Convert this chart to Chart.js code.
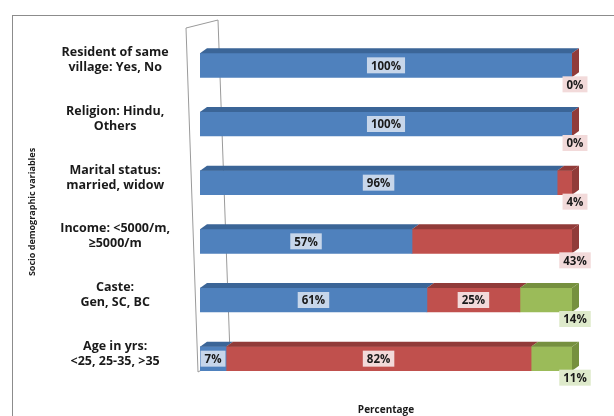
<!DOCTYPE html>
<html>
<head>
<meta charset="utf-8">
<script src="https://cdn.jsdelivr.net/npm/chart.js@4/dist/chart.umd.min.js"></script>
<style>
  html, body { margin: 0; padding: 0; background: #fff; }
  #wrap { width: 614px; height: 416px; }
</style>
</head>
<body>
<div id="wrap"><canvas id="chart" width="614" height="416"></canvas></div>
<script>
// categories, top to bottom
const categories = [
    ['Resident of same', 'village: Yes, No'],
    ['Religion: Hindu,', 'Others'],
    ['Marital status:', 'married, widow'],
    ['Income: <5000/m,', '\u22655000/m'],
    ['Caste:', 'Gen, SC, BC'],
    ['Age in yrs:', '<25, 25-35, >35']
];
const firstGroup = [100, 100, 96, 57, 61, 7];
const secondGroup = [0, 0, 4, 43, 25, 82];
const thirdGroup = [null, null, null, null, 14, 11];

const frontColors = ['#4F81BD', '#C0504D', '#9BBB59'];
const topColors = ['#3B6597', '#913B39', '#76903F'];
const labelBoxColors = ['#C7D6EA', '#F2DADA', '#DEEACB'];

const FONT = "'Open Sans', 'DejaVu Sans', sans-serif";

// draws the frame, the back wall, the 3D faces and the value boxes
const excelLook = {
    id: 'excelLook',
    beforeDraw(chart) {
        const ctx = chart.ctx;
        const area = chart.chartArea;
        const x0 = chart.scales.x.getPixelForValue(0);
        ctx.save();
        ctx.strokeStyle = '#8c8c8c';
        ctx.lineWidth = 1;
        ctx.strokeRect(12.5, 15.5, 700, 500);
        // back wall
        ctx.strokeStyle = '#9a9a9a';
        ctx.beginPath();
        ctx.moveTo(x0 - 14, area.top - 8);
        ctx.lineTo(x0 + 18, area.top - 16);
        ctx.lineTo(x0 + 30, area.bottom - 34);
        ctx.lineTo(x0 - 2, area.bottom - 16);
        ctx.closePath();
        ctx.stroke();
        ctx.restore();
    },
    afterDatasetsDraw(chart) {
        const ctx = chart.ctx;
        const dx = 7, dy = 5;
        ctx.save();
        categories.forEach((c, i) => {
            const last = thirdGroup[i] != null ? 2 : 1;
            for (let d = 0; d <= last; d++) {
                const bar = chart.getDatasetMeta(d).data[i];
                const top = bar.y - bar.height / 2;
                const bottom = bar.y + bar.height / 2;
                const left = Math.min(bar.x, bar.base);
                const right = Math.max(bar.x, bar.base);
                if (right - left > 0) {
                    ctx.fillStyle = topColors[d];
                    ctx.beginPath();
                    ctx.moveTo(left, top);
                    ctx.lineTo(left + dx, top - dy);
                    ctx.lineTo(right + dx, top - dy);
                    ctx.lineTo(right, top);
                    ctx.closePath();
                    ctx.fill();
                }
                if (d === last) {
                    ctx.fillStyle = topColors[d];
                    ctx.beginPath();
                    ctx.moveTo(right, top);
                    ctx.lineTo(right + dx, top - dy);
                    ctx.lineTo(right + dx, bottom - dy);
                    ctx.lineTo(right, bottom);
                    ctx.closePath();
                    ctx.fill();
                }
            }
            // value boxes
            ctx.font = 'bold 11.5px ' + FONT;
            ctx.textAlign = 'center';
            ctx.textBaseline = 'middle';
            for (let d = 0; d <= last; d++) {
                const bar = chart.getDatasetMeta(d).data[i];
                const v = chart.data.datasets[d].data[i];
                const text = v + '%';
                let cx, cy;
                if (d === last) {
                    cx = bar.x + 3;
                    cy = bar.y + 19;
                } else {
                    cx = (bar.x + bar.base) / 2;
                    cy = bar.y;
                }
                const w = ctx.measureText(text).width + 8;
                ctx.fillStyle = labelBoxColors[d];
                ctx.fillRect(cx - w / 2, cy - 8, w, 16);
                ctx.fillStyle = '#1a1a1a';
                ctx.fillText(text, cx, cy + 1);
            }
        });
        ctx.restore();
    }
};

new Chart(document.getElementById('chart'), {
    type: 'bar',
    data: {
        labels: categories,
        datasets: [
            { data: firstGroup, backgroundColor: frontColors[0], barThickness: 24 },
            { data: secondGroup, backgroundColor: frontColors[1], barThickness: 24 },
            { data: thirdGroup, backgroundColor: frontColors[2], barThickness: 24 }
        ]
    },
    options: {
        indexAxis: 'y',
        responsive: false,
        animation: false,
        layout: { padding: { top: 36, right: 42, bottom: 0, left: 12 } },
        plugins: {
            legend: { display: false },
            tooltip: { enabled: false }
        },
        scales: {
            x: {
                stacked: true,
                min: 0,
                max: 100,
                grid: { display: false },
                border: { display: false },
                ticks: { display: false },
                title: {
                    display: true,
                    text: 'Percentage',
                    color: '#1a1a1a',
                    font: { family: FONT, size: 10, weight: 'bold', lineHeight: 1.2 },
                    padding: { top: 8, bottom: 0 }
                }
            },
            y: {
                stacked: true,
                grid: { display: false, drawTicks: false },
                border: { display: false },
                ticks: {
                    crossAlign: 'center',
                    padding: 30,
                    labelOffset: -5,
                    color: '#1a1a1a',
                    font: { family: FONT, size: 12.5, weight: 'bold', lineHeight: 1.2 }
                },
                title: {
                    display: true,
                    text: 'Socio demographic variables',
                    color: '#1a1a1a',
                    font: { family: FONT, size: 9, weight: 'bold', lineHeight: 1.2 },
                    padding: { top: 15, bottom: 0 }
                },
                afterFit(scale) {
                    scale.width = 188;
                    // keep the tick padding from squeezing the plot vertically
                    scale.paddingTop = 0;
                    scale.paddingBottom = 0;
                }
            }
        }
    },
    plugins: [excelLook]
});
</script>
</body>
</html>
